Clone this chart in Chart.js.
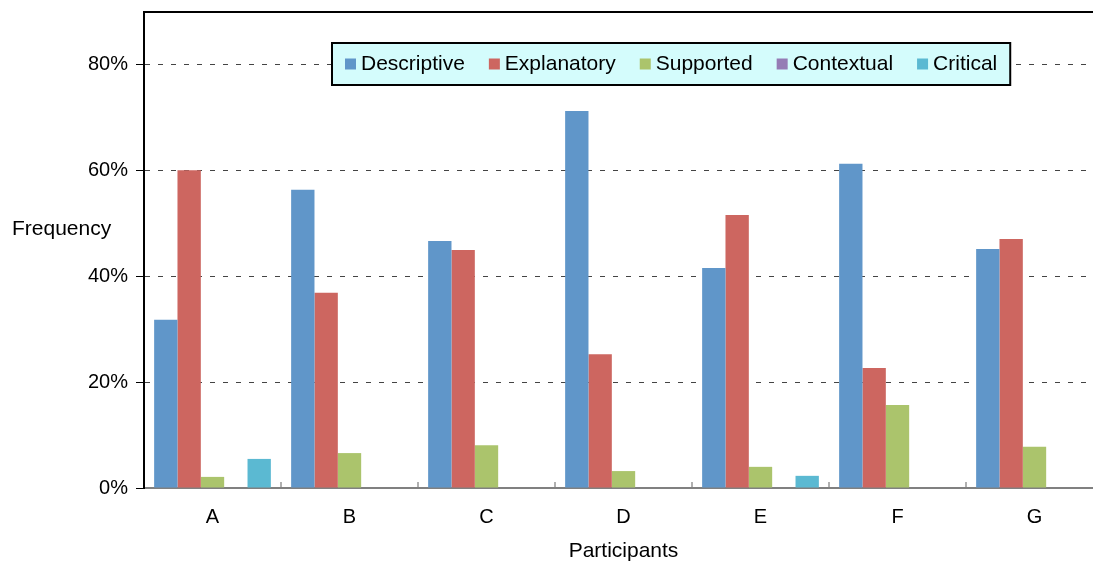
<!DOCTYPE html>
<html lang="en">
<head>
    <meta charset="UTF-8">
    <title>Frequency by Participant</title>
    <script src="https://cdn.jsdelivr.net/npm/chart.js"></script>
    <style>
        body { margin: 0; overflow: hidden; background: #fff; }
        canvas { display: block; }
    </style>
</head>
<body>
    <canvas id="barChart" width="1103" height="562"></canvas>

    <script>
        const participants = ['A', 'B', 'C', 'D', 'E', 'F', 'G'];
        const seriesNames = ['Descriptive', 'Explanatory', 'Supported', 'Contextual', 'Critical'];
        const seriesColors = ['#6096c9', '#cd6660', '#abc46c', '#957cb5', '#5bb9d2'];

        const descriptive = [31.8, 56.4, 46.7, 71.3, 41.6, 61.3, 45.2];
        const explanatory = [60.1, 36.9, 45.0, 25.3, 51.6, 22.7, 47.1];
        const supported   = [2.1, 6.6, 8.1, 3.2, 4.0, 15.7, 7.8];
        const contextual  = [0, 0, 0, 0, 0, 0, 0];
        const critical    = [5.5, 0, 0, 0, 2.3, 0, 0];

        const yTicks = [0, 20, 40, 60, 80];

        const seriesValues = [descriptive, explanatory, supported, contextual, critical];

        // frame, axis titles, boundary ticks and the boxed legend
        const extras = {
            id: 'extras',
            afterDraw(chart) {
                const { ctx, chartArea: a, scales: { x } } = chart;
                ctx.save();

                // top border
                ctx.strokeStyle = '#000';
                ctx.lineWidth = 2;
                ctx.beginPath();
                ctx.moveTo(a.left - 1, a.top);
                ctx.lineTo(a.right, a.top);
                ctx.stroke();

                // small ticks between categories
                ctx.strokeStyle = '#b0b0b0';
                ctx.lineWidth = 2;
                const step = x.getPixelForValue(1) - x.getPixelForValue(0);
                for (let i = 1; i < participants.length; i++) {
                    const px = Math.round(x.getPixelForValue(i) - step / 2);
                    ctx.beginPath();
                    ctx.moveTo(px, a.bottom - 1);
                    ctx.lineTo(px, a.bottom - 6);
                    ctx.stroke();
                }

                // y title, horizontal
                ctx.fillStyle = '#000';
                ctx.font = '21px "Liberation Sans", Arial, sans-serif';
                ctx.textBaseline = 'middle';
                ctx.textAlign = 'left';
                ctx.fillText('Frequency', 12, 229);

                // legend box
                const box = 11, gap = 5, space = 24, padL = 13, padR = 13;
                let w = padL + padR;
                seriesNames.forEach((n, i) => {
                    w += box + gap + ctx.measureText(n).width + (i < seriesNames.length - 1 ? space : 0);
                });
                const lx = 332, ly = 43, lh = 42;
                ctx.fillStyle = '#d4fcfc';
                ctx.fillRect(lx, ly, w, lh);
                ctx.strokeStyle = '#000';
                ctx.lineWidth = 2;
                ctx.strokeRect(lx, ly, w, lh);

                let cx = lx + padL;
                const cy = ly + lh / 2;
                seriesNames.forEach((n, i) => {
                    ctx.fillStyle = seriesColors[i];
                    ctx.fillRect(cx, cy - box / 2, box, box);
                    cx += box + gap;
                    ctx.fillStyle = '#000';
                    ctx.fillText(n, cx, cy);
                    cx += ctx.measureText(n).width + space;
                });

                ctx.restore();
            }
        };

        new Chart(document.getElementById('barChart'), {
            type: 'bar',
            data: {
                labels: participants,
                datasets: seriesNames.map((name, i) => ({
                    label: name,
                    data: seriesValues[i],
                    backgroundColor: seriesColors[i],
                    borderWidth: 0,
                    categoryPercentage: 0.852,
                    barPercentage: 1
                }))
            },
            options: {
                responsive: false,
                animation: false,
                layout: { padding: { top: 12, left: 0, right: 0, bottom: 0 } },
                plugins: {
                    legend: { display: false },
                    tooltip: { enabled: false }
                },
                scales: {
                    x: {
                        afterFit: s => { s.height = 74; s.paddingLeft = 0; s.paddingRight = 0; },
                        grid: { display: false, drawTicks: false },
                        border: { display: true, color: '#808080', width: 2 },
                        ticks: {
                            color: '#000',
                            padding: 17,
                            font: { family: '"Liberation Sans", Arial, sans-serif', size: 20 }
                        },
                        title: {
                            display: true,
                            text: 'Participants',
                            color: '#000',
                            padding: { top: 0, bottom: 0 },
                            font: { family: '"Liberation Sans", Arial, sans-serif', size: 21, lineHeight: 1 }
                        }
                    },
                    y: {
                        min: 0,
                        max: 90,
                        afterFit: s => { s.width = 144; s.paddingTop = 0; s.paddingBottom = 0; },
                        afterBuildTicks: s => { s.ticks = yTicks.map(v => ({ value: v })); },
                        grid: {
                            color: c => (c.tick && c.tick.value === 0) ? 'rgba(0,0,0,0)' : '#444',
                            tickBorderDash: [],
                            tickColor: '#000',
                            tickLength: 8,
                            lineWidth: 1
                        },
                        border: { display: true, color: '#000', width: 2, dash: [5, 8] },
                        ticks: {
                            color: '#000',
                            padding: 8,
                            font: { family: '"Liberation Sans", Arial, sans-serif', size: 20 },
                            callback: v => v + '%'
                        }
                    }
                }
            },
            plugins: [extras]
        });
    </script>
</body>
</html>
